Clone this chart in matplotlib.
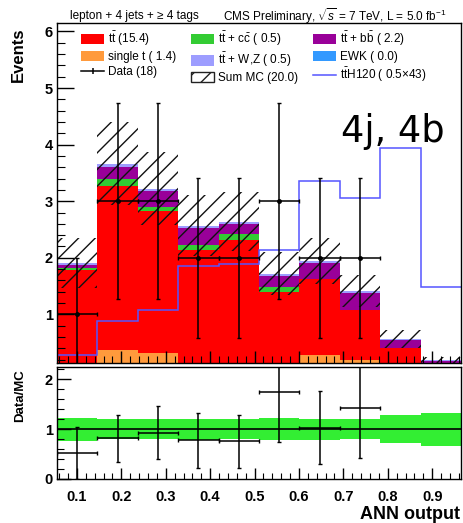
import numpy as np
import matplotlib
matplotlib.use("Agg")
import matplotlib.pyplot as plt
from matplotlib.patches import Patch
from matplotlib.lines import Line2D
from matplotlib.ticker import FixedLocator, MultipleLocator

plt.rcParams['font.family'] = ['Liberation Sans', 'DejaVu Sans']
plt.rcParams['mathtext.fontset'] = 'custom'
plt.rcParams['mathtext.rm'] = 'Liberation Sans'
plt.rcParams['mathtext.it'] = 'Liberation Sans:italic'
plt.rcParams['mathtext.bf'] = 'Liberation Sans:bold'
plt.rcParams['hatch.linewidth'] = 1.0

# ---------------- data ----------------
bin_edges = np.linspace(0.055, 0.965, 11)          # ANN output binning
single_t = np.array([0.00, 0.37, 0.32, 0.02, 0.05, 0.00, 0.28, 0.20, 0.00, 0.00])
ttbar    = np.array([1.79, 2.89, 2.50, 2.12, 2.27, 1.40, 1.34, 0.87, 0.40, 0.10])
tt_cc    = np.array([0.03, 0.14, 0.08, 0.08, 0.10, 0.08, 0.00, 0.00, 0.00, 0.00])
tt_bb    = np.array([0.06, 0.21, 0.28, 0.30, 0.18, 0.20, 0.28, 0.30, 0.14, 0.07])
tt_wz    = np.array([0.03, 0.05, 0.04, 0.05, 0.04, 0.04, 0.04, 0.04, 0.03, 0.02])
ewk      = np.array([0.00, 0.00, 0.00, 0.00, 0.00, 0.00, 0.00, 0.00, 0.00, 0.00])
mc_rel_unc = np.array([0.23, 0.20, 0.20, 0.21, 0.20, 0.22, 0.21, 0.20, 0.28, 0.33])
data     = np.array([1, 3, 3, 2, 2, 3, 2, 2, 0, 0], dtype=float)
tth_scaled = np.array([0.28, 0.89, 1.07, 1.86, 1.89, 2.14, 3.35, 3.05, 3.94, 1.48])

x_ticks = [0.1, 0.2, 0.3, 0.4, 0.5, 0.6, 0.7, 0.8, 0.9]
x_tick_labels = ['0.1', '0.2', '0.3', '0.4', '0.5', '0.6', '0.7', '0.8', '0.9']
y_ticks_top = [1, 2, 3, 4, 5, 6]
y_ticks_ratio = [0, 1, 2]

TT = r'$\mathrm{t\bar{t}}$'
labels = {
    'tt': TT + ' (15.4)',
    'st': 'single t ( 1.4)',
    'data': 'Data (18)',
    'cc': TT + r' + $\mathrm{c\bar{c}}$ ( 0.5)',
    'wz': TT + ' + W,Z ( 0.5)',
    'mc': 'Sum MC (20.0)',
    'bb': TT + r' + $\mathrm{b\bar{b}}$ ( 2.2)',
    'ewk': 'EWK ( 0.0)',
    'tth': r'$\mathrm{t\bar{t}H120}$ ( 0.5×43)',
}

colors = {
    'st': '#ff9a3c', 'tt': '#ff0000', 'cc': '#33cc33', 'bb': '#990099',
    'wz': '#9d9dff', 'ewk': '#3399ff', 'tth': '#5555ff', 'band': '#33ee33',
}

# ---------------- figure ----------------
W, H = 463, 523
fig = plt.figure(figsize=(W / 100, H / 100), dpi=100)
ax = fig.add_axes([57 / W, 1 - 363 / H, 404 / W, 340 / H])
ax2 = fig.add_axes([57 / W, 1 - 479 / H, 404 / W, 112 / H])

centers = 0.5 * (bin_edges[:-1] + bin_edges[1:])
halfw = 0.5 * np.diff(bin_edges)

# stacked MC
bottom = np.zeros(len(ttbar))
for key, vals in [('st', single_t), ('tt', ttbar), ('cc', tt_cc), ('bb', tt_bb),
                  ('wz', tt_wz), ('ewk', ewk)]:
    top = bottom + vals
    ax.stairs(top, bin_edges, baseline=bottom, fill=True, color=colors[key], lw=0)
    bottom = top
total = bottom

# MC uncertainty hatch
ax.stairs(total * (1 + mc_rel_unc), bin_edges, baseline=total * (1 - mc_rel_unc),
          fill=True, facecolor='none', edgecolor='#111111', hatch='//', lw=0)

# ttH line
ax.stairs(tth_scaled, bin_edges, baseline=None, color=colors['tth'], lw=1.1)

# data
m = data > 0
ax.errorbar(centers[m], data[m], yerr=np.sqrt(data[m]), xerr=halfw[m],
            fmt='o', ms=2.5, color='black', lw=1.1, capsize=1.5, zorder=5)

ax.set_xlim(bin_edges[0], bin_edges[-1])
ax.set_ylim(0.14, 6.15)
ax.xaxis.set_major_locator(FixedLocator(x_ticks))
ax.xaxis.set_minor_locator(MultipleLocator(0.02))
ax.yaxis.set_major_locator(FixedLocator(y_ticks_top))
ax.yaxis.set_minor_locator(MultipleLocator(0.2))
ax.tick_params(which='both', direction='in', top=False, right=False, labelbottom=False)
ax.tick_params(axis='y', which='major', length=12, width=1, pad=3, labelsize=10.5)
ax.tick_params(axis='y', which='minor', length=6, width=0.8)
ax.tick_params(axis='x', which='major', length=9, width=1)
ax.tick_params(axis='x', which='minor', length=5, width=0.8)
for lb in ax.get_yticklabels():
    lb.set_fontweight('bold')
for s in ax.spines.values():
    s.set_linewidth(1.0)

# legend
leg_handles = [
    Patch(facecolor=colors['tt'], edgecolor='none'),
    Patch(facecolor=colors['st'], edgecolor='none'),
    Line2D([], [], color='black', lw=1.1, marker='|', ms=5, mew=1.1),
    Patch(facecolor=colors['cc'], edgecolor='none'),
    Patch(facecolor=colors['wz'], edgecolor='none'),
    Patch(facecolor='white', edgecolor='#222222', hatch='//', lw=1.0),
    Patch(facecolor=colors['bb'], edgecolor='none'),
    Patch(facecolor=colors['ewk'], edgecolor='none'),
    Line2D([], [], color=colors['tth'], lw=1.1),
]
leg_labels = [labels[k] for k in ['tt', 'st', 'data', 'cc', 'wz', 'mc', 'bb', 'ewk', 'tth']]
leg = ax.legend(leg_handles, leg_labels, ncol=3, loc='upper left',
                bbox_to_anchor=(81 / W, 1 - 30 / H), bbox_transform=fig.transFigure,
                frameon=False, fontsize=8.5, handlelength=1.95, handleheight=0.95,
                handletextpad=0.3, columnspacing=1.3, labelspacing=0.24,
                borderpad=0, borderaxespad=0)
leg.set_zorder(10)

# ratio panel
ratio = data[m] / total[m]
ratio_err = np.sqrt(data[m]) / total[m]
ax2.stairs(1 + mc_rel_unc, bin_edges, baseline=1 - mc_rel_unc, fill=True,
           color=colors['band'], lw=0)
ax2.axhline(1, color='black', lw=1.2)
ax2.errorbar(centers[m], ratio, yerr=ratio_err, xerr=halfw[m], fmt='none',
             ecolor='black', lw=1.1, capsize=1.5, zorder=5)
ax2.set_xlim(bin_edges[0], bin_edges[-1])
ax2.set_ylim(0, 2.25)
ax2.xaxis.set_major_locator(FixedLocator(x_ticks))
ax2.xaxis.set_minor_locator(MultipleLocator(0.02))
ax2.set_xticklabels(x_tick_labels)
ax2.yaxis.set_major_locator(FixedLocator(y_ticks_ratio))
ax2.yaxis.set_minor_locator(MultipleLocator(0.2))
ax2.tick_params(which='both', direction='in', top=False, right=False)
ax2.tick_params(axis='y', which='major', length=10, width=1, pad=3, labelsize=10.5)
ax2.tick_params(axis='y', which='minor', length=5, width=0.8)
ax2.tick_params(axis='x', which='major', length=8, width=1, pad=8, labelsize=10.5)
ax2.tick_params(axis='x', which='minor', length=4, width=0.8)
for lb in ax2.get_yticklabels() + ax2.get_xticklabels():
    lb.set_fontweight('bold')
for s in ax2.spines.values():
    s.set_linewidth(1.0)

# texts
fig.text(70 / W, 1 - 16 / H, 'lepton + 4 jets + ≥ 4 tags', fontsize=8.5,
         ha='left', va='center')
fig.text(447 / W, 1 - 16 / H, r'CMS Preliminary, $\sqrt{s}$ = 7 TeV, L = 5.0 fb$^{-1}$',
         fontsize=8.5, ha='right', va='center')
fig.text(18.5 / W, 1 - 27 / H, 'Events', rotation=90, fontsize=12,
         fontweight='bold', ha='center', va='top')
fig.text(20.5 / W, 1 - 369 / H, 'Data/MC', rotation=90, fontsize=9.5,
         fontweight='bold', ha='center', va='top')
fig.text(460 / W, 1 - 519 / H, 'ANN output', fontsize=13, fontweight='bold',
         ha='right', va='baseline')
fig.text(445 / W, 1 - 142 / H, '4j, 4b', fontsize=26.5, family='DejaVu Sans',
         ha='right', va='baseline')

fig.savefig('out.png', dpi=100)
